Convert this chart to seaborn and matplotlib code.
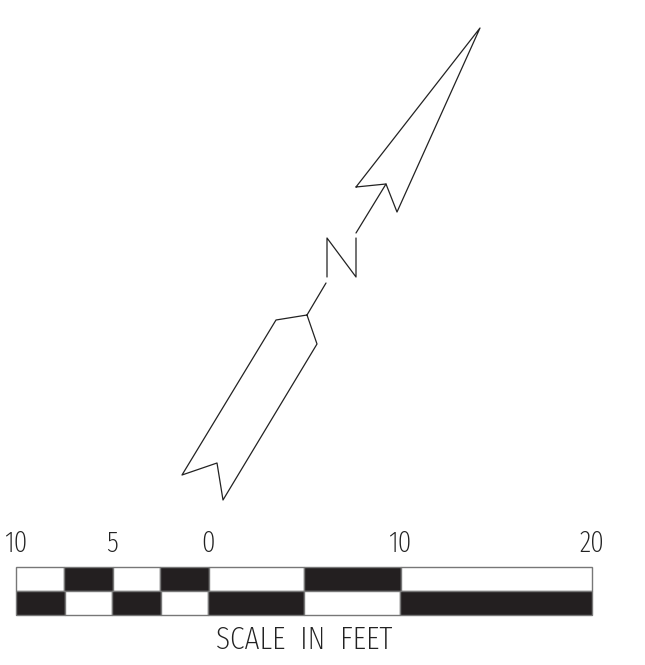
import pandas as pd
import matplotlib
matplotlib.use("Agg")
import matplotlib.pyplot as plt
import seaborn as sns

# outline of the north arrow in pixels
head_x = [356, 480, 397, 386, 356]
head_y = [187, 28, 212, 184, 187]
stem_top_x = [386, 356]
stem_top_y = [184, 233]
letter_x = [327, 327, 356, 356]
letter_y = [277, 238, 277, 238]
stem_low_x = [326, 307]
stem_low_y = [283, 315]
tail_x = [307, 276, 182, 217, 223, 317, 307]
tail_y = [315, 320, 475, 463, 500, 344, 315]

# scale bar edges and fill per row
top_edges = [16, 63.5, 112.5, 160, 208.5, 303.5, 400.5, 592]
top_black = [False, True, False, True, False, True, False]
low_edges = [16, 64.5, 111.5, 160.5, 207.5, 304, 399.7, 592]
low_black = [True, False, True, False, True, False, True]

tick_labels = ["10", "5", "0", "10", "20"]
tick_pos = [16, 112, 208, 400, 592]
scale_title = "SCALE  IN  FEET"

parts = [
    ("head", head_x, head_y),
    ("stem_top", stem_top_x, stem_top_y),
    ("letter", letter_x, letter_y),
    ("stem_low", stem_low_x, stem_low_y),
    ("tail", tail_x, tail_y),
]
rows = []
for name, xs, ys in parts:
    for i in range(len(xs)):
        rows.append({"part": name, "order": i, "x": xs[i], "y": ys[i]})
df = pd.DataFrame(rows)

sns.set_theme(style="white")
plt.rcParams["font.family"] = ["Fira Sans Extra Condensed", "Liberation Sans", "DejaVu Sans"]
plt.rcParams["font.weight"] = 275

fig = plt.figure(figsize=(6.45, 6.65), dpi=100)
ax = fig.add_axes([0, 0, 1, 1])

sns.lineplot(
    data=df,
    x="x",
    y="y",
    units="part",
    estimator=None,
    sort=False,
    color="#222222",
    linewidth=0.9,
    legend=False,
    ax=ax,
)

for edges, black, y0, y1 in [
    (top_edges, top_black, 567, 591),
    (low_edges, low_black, 591, 615),
]:
    for i in range(len(black)):
        ax.barh(
            (y0 + y1) / 2,
            edges[i + 1] - edges[i],
            height=y1 - y0,
            left=edges[i],
            color="#231f20" if black[i] else "white",
            edgecolor="#777777",
            linewidth=1.0,
        )

for pos, label in zip(tick_pos, tick_labels):
    ax.text(pos, 543.5, label, ha="center", va="center", fontsize=21, color="#222222")
ax.text(304, 640, scale_title, ha="center", va="center", fontsize=23, color="#222222")

ax.set_xlim(0, 645)
ax.set_ylim(665, 0)
ax.set_xlabel("")
ax.set_ylabel("")
ax.axis("off")

fig.savefig("out.png", dpi=100)
plt.close(fig)
